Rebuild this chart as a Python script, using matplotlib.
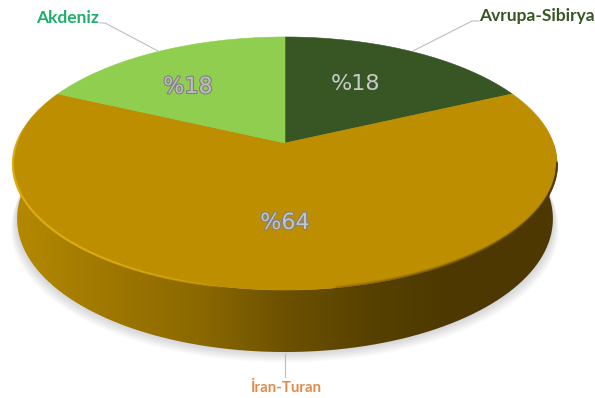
import numpy as np
import matplotlib
matplotlib.use("Agg")
import matplotlib.pyplot as plt
import matplotlib.patheffects as pe
from matplotlib.collections import LineCollection
from matplotlib.patches import Polygon, PathPatch
from matplotlib.path import Path
from matplotlib.colors import LinearSegmentedColormap, to_rgb

# Biogeographic regions and their shares (percent)
regions = ["Avrupa-Sibirya", "İran-Turan", "Akdeniz"]
shares = [18, 64, 18]
face_colors = ["#375623", "#BD8E00", "#90CE50"]
label_colors = ["#375623", "#E08A4A", "#1FAE6B"]

W, H = 595, 398
fig = plt.figure(figsize=(W / 100, H / 100), dpi=100)
ax = fig.add_axes([0, 0, 1, 1])
ax.set_xlim(0, W)
ax.set_ylim(H, 0)
ax.axis("off")

CX, CY, A, B, K = 285.0, 143.0, 268.4, 123.2, 0.162
BASE_SCALE = 0.985


def project(theta):
    """Perspective projection of the unit disc rim; theta is clockwise from north."""
    u, v = np.sin(theta), np.cos(theta)
    d = 1 + K * v
    return CX + A * u / d, CY - B * v / d


def base(theta):
    """Lower rim of the disc: slightly narrower and further down than the top rim."""
    x, y = project(theta)
    return CX + (x - CX) * BASE_SCALE, y + 46 + 16 * (1 - np.cos(theta)) / 2


def faded_line(theta, offset, color, widths, alphas):
    """Stroke the top rim with an opacity that varies along theta."""
    x, y = project(theta)
    pts = np.c_[x, y + offset]
    segs = np.stack([pts[:-1], pts[1:]], axis=1)
    rgba = np.c_[np.tile(to_rgb(color), (len(segs), 1)), alphas[:-1]]
    ax.add_collection(LineCollection(segs, colors=rgba, linewidths=widths, zorder=4,
                                     capstyle="round"))


# Soft shadow under the disc
full = np.linspace(0, 2 * np.pi, 400)
sx0, sy0 = base(full)
for grow in np.linspace(15, 1, 14):
    sx = CX + (sx0 - CX) * (1 + grow / 650)
    ax.add_patch(Polygon(np.c_[sx, sy0 + grow * 0.7], closed=True,
                         fc="#606068", ec="none", alpha=0.015, zorder=1))

# Cylinder wall: outline of the lower half, filled with a horizontal gradient
front = np.linspace(np.pi * 0.5, np.pi * 1.5, 300)
tx, ty = project(front)
bx, by = base(front)
wall = Path(np.r_[np.c_[tx, ty], np.c_[bx, by][::-1], [[tx[0], ty[0]]]], closed=False)
wall_patch = PathPatch(wall, fc="none", ec="none")
ax.add_patch(wall_patch)
wall_cmap = LinearSegmentedColormap.from_list(
    "wall", [(0.0, "#B58900"), (0.18, "#9E7700"), (0.35, "#8A6800"), (0.5, "#6C5100"),
             (0.66, "#574100"), (0.8, "#4D3900"), (1.0, "#4C3800")])
img = ax.imshow(np.linspace(0, 1, 256)[None, :], cmap=wall_cmap, aspect="auto",
                extent=(13, 557, H, 0), zorder=2)
img.set_clip_path(wall_patch)
ax.set_xlim(0, W)
ax.set_ylim(H, 0)

# Top face wedges, running clockwise from north
angles = np.r_[0, np.cumsum(shares)] / np.sum(shares) * 2 * np.pi
for start, end, color in zip(angles[:-1], angles[1:], face_colors):
    x, y = project(np.linspace(start, end, 200))
    ax.add_patch(Polygon(np.c_[np.r_[CX, x], np.r_[CY, y]], closed=True,
                         fc=color, ec=color, lw=0.4, zorder=3))

# Bevel along the front rim: warm highlight on the left, dark fade on the right
lit = np.linspace(np.pi * 1.06, np.pi * 1.54, 200)
faded_line(lit, 0.4, "#DDAB10", 1.6, np.sin(np.linspace(0, np.pi, 200)) ** 0.6 * 0.85)
shade = np.linspace(np.pi * 0.55, np.pi * 0.95, 200)
ramp = np.sin(np.linspace(0.25, np.pi / 2, 200))[::-1] * 0.7
for off, wid, k in [(-1.6, 1.4, 0.2), (-0.6, 1.4, 0.45), (0.4, 1.4, 0.8)]:
    faded_line(shade, off, "#4C3800", wid, ramp * k)

# Percentage labels inside the wedges
value_pos = [(356, 84), (285, 223), (188, 87)]
value_fill = ["#C9C9C9", "#C4C4C4", "#BDBDBD"]
for i, (share, (px, py)) in enumerate(zip(shares, value_pos)):
    t = ax.text(px, py, f"%{share}", ha="center", va="center", fontsize=16,
                family="DejaVu Sans", color=value_fill[i], zorder=6)
    if i != 0:
        t.set_path_effects([pe.withStroke(linewidth=1.6, foreground="#808080")])

# Region names with their leader lines
name_pos = [(537, 16), (286, 388), (67.5, 18)]
name_sizes = [12.5, 10.8, 12.5]
leader_x = [[413, 472, 479], [285, 285, 285], [158, 105, 100]]
leader_y = [[51, 21, 21], [354, 365, 377], [51, 23, 23]]
for name, color, (nx, ny), size, lx, ly in zip(regions, label_colors, name_pos, name_sizes,
                                               leader_x, leader_y):
    ax.text(nx, ny, name, ha="center", va="center", fontsize=size, fontweight="bold",
            family="Lato", color=color, zorder=6)
    ax.plot(lx, ly, color="#BDBDBD", lw=0.8, zorder=5)

fig.savefig("out.png", dpi=100, facecolor="white")
